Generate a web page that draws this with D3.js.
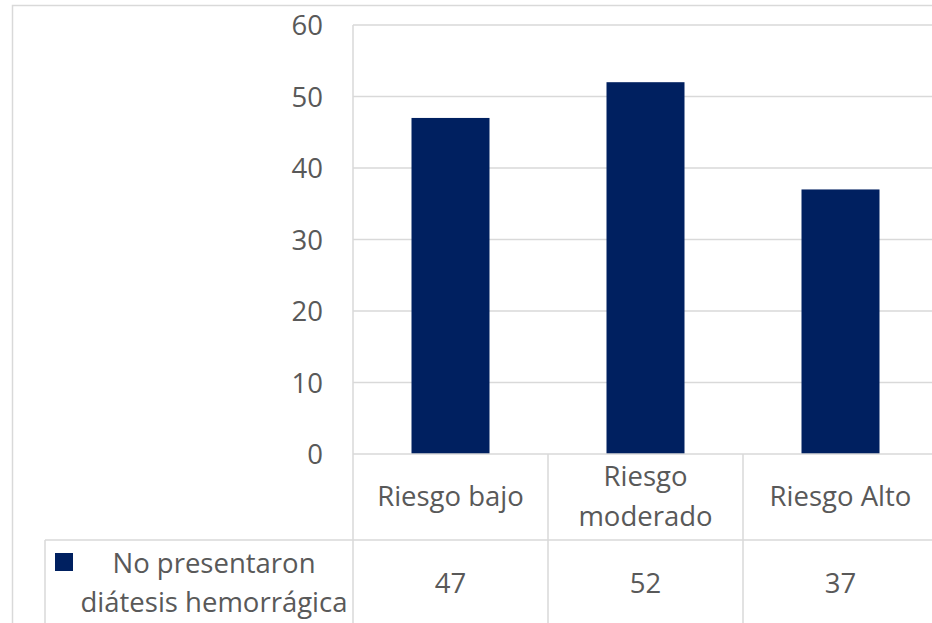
<!DOCTYPE html>
<html>
<head>
<meta charset="utf-8">
<script src="https://cdn.jsdelivr.net/npm/d3@7"></script>
<style>
  html, body { margin: 0; padding: 0; background: #fff; overflow: hidden; }
  svg { display: block; font-family: "Open Sans", sans-serif; }
</style>
</head>
<body>
<script>
// Chart values
const categories = ["Riesgo bajo", "Riesgo moderado", "Riesgo Alto"];
const categoryLines = [["Riesgo bajo"], ["Riesgo", "moderado"], ["Riesgo Alto"]];
const seriesName = ["No presentaron", "diátesis hemorrágica"];
const values = [47, 52, 37];
const yTicks = [0, 10, 20, 30, 40, 50, 60];

const W = 932, H = 623;
const textColor = "#595959";
const gridColor = "#d9d9d9";
const barColor = "#002060";
const fontSize = 27.5;

const svg = d3.select("body").append("svg")
  .attr("width", W).attr("height", H);

// Outer chart frame (extends past the window edges)
svg.append("rect")
  .attr("x", 12.5).attr("y", 5.5)
  .attr("width", 960).attr("height", 660)
  .attr("fill", "none").attr("stroke", gridColor).attr("stroke-width", 1.5);

const plotLeft = 353, plotRight = 938, plotTop = 25, plotBottom = 454;
const x = d3.scaleBand().domain(categories).range([plotLeft, plotRight]).paddingInner(0).paddingOuter(0);
const y = d3.scaleLinear().domain([0, 60]).range([plotBottom, plotTop]);

// Gridlines
svg.append("g").selectAll("line").data(yTicks.filter(d => d > 0)).join("line")
  .attr("x1", plotLeft).attr("x2", plotRight)
  .attr("y1", d => y(d)).attr("y2", d => y(d))
  .attr("stroke", gridColor).attr("stroke-width", 1.5);

// Y axis labels
const yAxis = d3.axisLeft(y).tickValues(yTicks).tickSize(0).tickPadding(0);
const yg = svg.append("g").attr("transform", `translate(${plotLeft - 30},0)`).call(yAxis);
yg.select(".domain").remove();
yg.selectAll("text")
  .attr("fill", textColor).attr("font-size", fontSize)
  .attr("font-family", "Open Sans, sans-serif")
  .attr("dy", "0.36em");

// Bars
const barW = x.bandwidth() * 0.4;
svg.append("g").selectAll("rect").data(values).join("rect")
  .attr("x", (d, i) => x(categories[i]) + (x.bandwidth() - barW) / 2)
  .attr("width", barW)
  .attr("y", d => y(d))
  .attr("height", d => y(0) - y(d))
  .attr("fill", barColor);

// Data table
const rowSplit = 540, legendLeft = 45, bottomEdge = H + 20;
const lines = svg.append("g").attr("stroke", gridColor).attr("stroke-width", 1.5);
lines.append("line").attr("x1", plotLeft).attr("x2", plotRight).attr("y1", plotBottom).attr("y2", plotBottom);
lines.append("line").attr("x1", legendLeft).attr("x2", plotRight).attr("y1", rowSplit).attr("y2", rowSplit);
lines.append("line").attr("x1", plotLeft).attr("x2", plotLeft).attr("y1", plotTop).attr("y2", bottomEdge);
lines.append("line").attr("x1", legendLeft).attr("x2", legendLeft).attr("y1", rowSplit).attr("y2", bottomEdge);
categories.forEach((c, i) => {
  if (i > 0) lines.append("line").attr("x1", x(c)).attr("x2", x(c)).attr("y1", plotBottom).attr("y2", bottomEdge);
});

// Category header cells
const header = svg.append("g").attr("fill", textColor).attr("font-size", fontSize).attr("text-anchor", "middle");
categoryLines.forEach((ls, i) => {
  const cx = x(categories[i]) + x.bandwidth() / 2;
  const lh = 40;
  const base = 506 - (ls.length - 1) * lh / 2;
  ls.forEach((t, j) => {
    header.append("text").attr("x", cx).attr("y", base + j * lh).text(t);
  });
});

// Value cells
svg.append("g").selectAll("text").data(values).join("text")
  .attr("x", (d, i) => x(categories[i]) + x.bandwidth() / 2)
  .attr("y", 593)
  .attr("text-anchor", "middle")
  .attr("fill", textColor).attr("font-size", fontSize)
  .text(d => d);

// Legend cell
svg.append("rect").attr("x", 55).attr("y", 553).attr("width", 18).attr("height", 18).attr("fill", barColor);
const leg = svg.append("g").attr("fill", textColor).attr("font-size", fontSize).attr("text-anchor", "middle");
seriesName.forEach((t, j) => {
  leg.append("text").attr("x", 214).attr("y", 573 + j * 39).text(t);
});
</script>
</body>
</html>
